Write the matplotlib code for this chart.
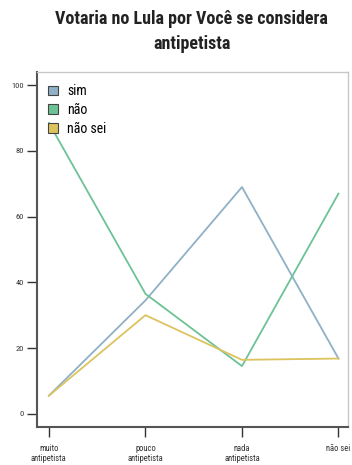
import matplotlib
matplotlib.use("Agg")
import matplotlib.pyplot as plt
from matplotlib.patches import Patch
from matplotlib import font_manager

names = {f.name for f in font_manager.fontManager.ttflist}
fam = "Roboto Condensed" if "Roboto Condensed" in names else "Liberation Sans"
plt.rcParams["font.family"] = [fam, "DejaVu Sans"]

categories = ["muito\nantipetista", "pouco\nantipetista", "nada\nantipetista", "não sei"]
series_names = ["sim", "não", "não sei"]
sim = [5.5, 34.5, 69.0, 16.8]
nao = [88.5, 36.5, 14.5, 67.0]
nao_sei = [5.5, 30.0, 16.4, 16.8]
colors = ["#8fb0c6", "#6dc295", "#dcc35e"]
yticks = [0, 20, 40, 60, 80, 100]

fig = plt.figure(figsize=(3.52, 4.65), dpi=100)
ax = fig.add_axes([0.105, 0.082, 0.884, 0.763])

x = list(range(len(categories)))
for vals, c, name in zip([sim, nao, nao_sei], colors, series_names):
    ax.plot(x, vals, color=c, lw=1.3, label=name)

ax.set_xlim(-0.124, 3.10)
ax.set_ylim(-4, 104)
ax.set_xticks(x)
ax.set_xticklabels(categories, fontsize=6.2, color="#333333", linespacing=1.25)
ax.set_yticks(yticks)
ax.set_yticklabels([str(v) for v in yticks], fontsize=6.0, color="#333333")
ax.tick_params(axis="both", direction="out", length=7, width=1.0, color="#333333", pad=2.5)
ax.tick_params(axis="x", pad=5)

for s in ["top", "right"]:
    ax.spines[s].set_color("#c8c8c8")
    ax.spines[s].set_linewidth(1.0)
for s in ["left", "bottom"]:
    ax.spines[s].set_color("#555555")
    ax.spines[s].set_linewidth(1.5)

handles = [Patch(facecolor=c, edgecolor="#444444", linewidth=0.8, label=n) for c, n in zip(colors, series_names)]
leg = ax.legend(handles=handles, loc="upper left", frameon=False, fontsize=10,
                handlelength=0.7, handleheight=0.7, handletextpad=0.65,
                labelspacing=0.35, borderaxespad=0.3, bbox_to_anchor=(0.005, 0.993))

fig.text(0.545, 0.978, "Votaria no Lula por Você se considera\nantipetista", ha="center", va="top",
         fontsize=13, fontweight="bold", color="#222222", linespacing=1.45)

fig.savefig("out.png", dpi=100)
